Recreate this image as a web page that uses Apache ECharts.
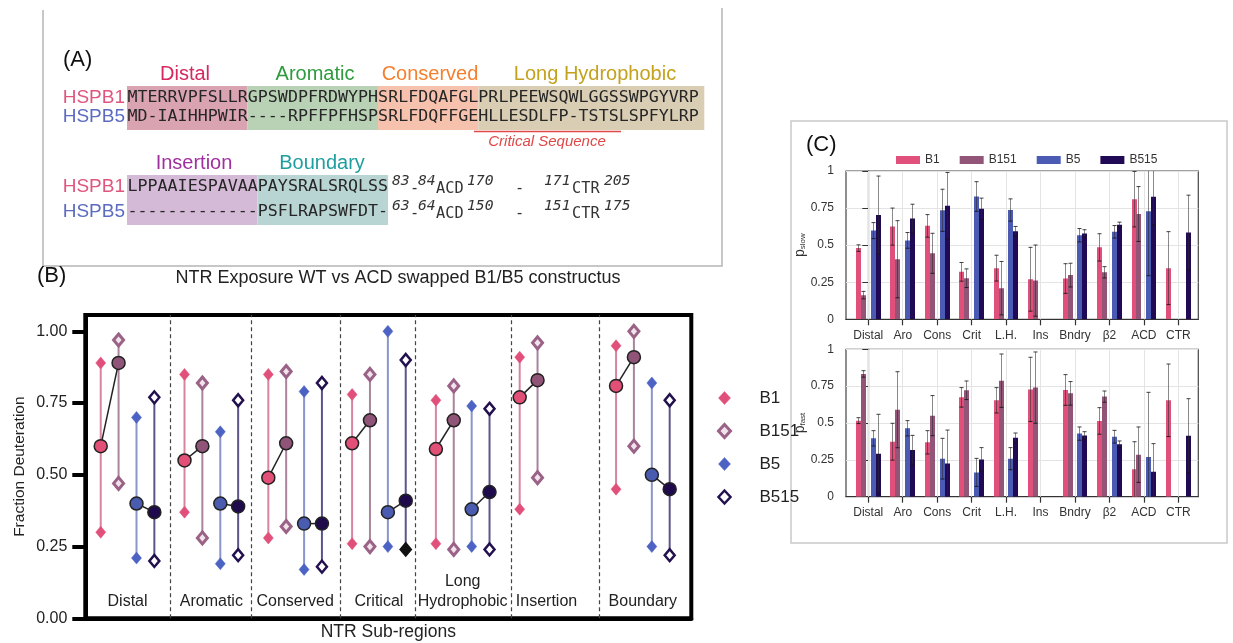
<!DOCTYPE html>
<html><head><meta charset="utf-8">
<script src="https://cdn.jsdelivr.net/npm/echarts@6/dist/echarts.min.js"></script>
<style>html,body{margin:0;padding:0;background:#fff;}#c{width:1233px;height:643px;}</style>
</head><body><div id="c"></div>
<script>
// ================= DATA =================
// Panel B: fraction deuteration [low, mean, high] per NTR sub-region
const regionsB = ['Distal', 'Aromatic', 'Conserved', 'Critical', 'Long\nHydrophobic', 'Insertion', 'Boundary'];
const regionPosB = [1, 2, 3, 4, 5, 6, 7.15];
const separatorPosB = [1.507, 2.482, 3.536, 4.431, 5.585, 6.63];
const yTicksB = [0, 0.25, 0.5, 0.75, 1];
const constructs = ['B1', 'B151', 'B5', 'B515'];
const deutB1   = [[0.30,0.60,0.89],[0.37,0.55,0.85],[0.28,0.49,0.85],[0.26,0.61,0.78],[0.26,0.59,0.76],[0.38,0.77,0.91],[0.45,0.81,0.95]];
const deutB151 = [[0.47,0.89,0.97],[0.28,0.60,0.82],[0.32,0.61,0.86],[0.25,0.69,0.85],[0.24,0.69,0.81],[0.49,0.83,0.96],[0.60,0.91,1.00]];
const deutB5   = [[0.21,0.40,0.70],[0.19,0.40,0.65],[0.17,0.33,0.79],[0.25,0.37,1.00],[0.25,0.38,0.74],null,[0.25,0.50,0.82]];
const deutB515 = [[0.20,0.37,0.77],[0.22,0.39,0.76],[0.18,0.33,0.82],[0.24,0.41,0.90],[0.24,0.44,0.73],null,[0.22,0.45,0.76]];

// Panel C: p_slow / p_fast bars with errors
const categoriesC = ['Distal', 'Aro', 'Cons', 'Crit', 'L.H.', 'Ins', 'Bndry', 'β2', 'ACD', 'CTR'];
const pSlowB1      = [0.48, 0.625, 0.63, 0.32, 0.345, 0.27, 0.275, 0.485, 0.81, 0.345];
const pSlowErrB1   = [0.022, 0.125, 0.076, 0.063, 0.087, 0.215, 0.10, 0.092, 0.187, 0.246];
const pSlowB151    = [0.163, 0.405, 0.445, 0.277, 0.21, 0.261, 0.298, 0.317, 0.71, null];
const pSlowErrB151 = [0.025, 0.26, 0.135, 0.063, 0.18, 0.24, 0.08, 0.038, 0.185, null];
const pSlowB5      = [0.598, 0.532, 0.735, 0.828, 0.737, null, 0.567, 0.59, 0.728, null];
const pSlowErrB5   = [0.054, 0.053, 0.142, 0.10, 0.075, null, 0.045, 0.042, 0.434, null];
const pSlowB515    = [0.703, 0.679, 0.766, 0.745, 0.594, null, 0.578, 0.638, 0.827, 0.585];
const pSlowErrB515 = [0.263, 0.097, 0.224, 0.072, 0.032, null, 0.026, 0.017, 0.19, 0.252];
const pFastB1      = [0.516, 0.373, 0.369, 0.674, 0.654, 0.728, 0.724, 0.514, 0.186, 0.654];
const pFastErrB1   = [0.02, 0.125, 0.079, 0.066, 0.086, 0.218, 0.104, 0.09, 0.187, 0.246];
const pFastB151    = [0.833, 0.59, 0.55, 0.722, 0.787, 0.74, 0.701, 0.679, 0.285, null];
const pFastErrB151 = [0.022, 0.258, 0.136, 0.063, 0.181, 0.242, 0.08, 0.038, 0.188, null];
const pFastB5      = [0.396, 0.464, 0.258, 0.165, 0.258, null, 0.428, 0.407, 0.269, null];
const pFastErrB5   = [0.052, 0.052, 0.138, 0.095, 0.075, null, 0.045, 0.043, 0.439, null];
const pFastB515    = [0.292, 0.317, 0.226, 0.253, 0.40, null, 0.416, 0.355, 0.17, 0.414];
const pFastErrB515 = [0.267, 0.099, 0.226, 0.08, 0.032, null, 0.025, 0.023, 0.19, 0.251];

// Panel A: sequences
const seqHSPB1a = 'MTERRVPFSLLRGPSWDPFRDWYPHSRLFDQAFGLPRLPEEWSQWLGGSSWPGYVRP';
const seqHSPB5a = 'MD-IAIHHPWIR----RPFFPFHSPSRLFDQFFGEHLLESDLFP-TSTSLSPFYLRP';
const seqHSPB1b = 'LPPAAIESPAVAAPAYSRALSRQLSS';
const seqHSPB5b = '-------------PSFLRAPSWFDT-';
const segNamesA = ['Distal', 'Aromatic', 'Conserved', 'Long Hydrophobic'];
const segLenA = [12, 13, 10, 22];
const segNamesB = ['Insertion', 'Boundary'];
const segLenB = [13, 13];
const rangesHSPB1 = ['83', '-', '84', 'ACD', '170', '-', '171', 'CTR', '205'];
const rangesHSPB5 = ['63', '-', '64', 'ACD', '150', '-', '151', 'CTR', '175'];

// ================= STYLE =================
const FONT = "'Liberation Sans', Arial, Helvetica, sans-serif";
const MONO = "'DejaVu Sans Mono', monospace";
const COL = { B1: '#E0507A', B151: '#935577', B5: '#4B5BB3', B515: '#200A55' };
const DOT = { B1: '#E24F77', B151: '#8F5477', B5: '#4A5CB0', B515: '#1F0B4C' };
const RANGE = { B1: '#D9849F', B151: '#A9849C', B5: '#8B95CB', B515: '#5D5488' };
const DIAMOND = {
  B1: { color: '#E0507A', borderColor: '#E0507A', borderWidth: 0.5, opacity: 1 },
  B151: { color: '#F1E3EB', borderColor: '#9A6286', borderWidth: 3, opacity: 1 },
  B5: { color: '#4C63C4', borderColor: '#4C63C4', borderWidth: 0.5, opacity: 1 },
  B515: { color: '#FFFFFF', borderColor: '#23104F', borderWidth: 2.5, opacity: 1 }
};
const OFF_B = [-0.32, -0.107, 0.107, 0.32];
const OFF_C = [-0.285, -0.142, 0.142, 0.285];
const BAR_W_C = 0.145;

// ================= PANEL B SERIES =================
const deutAll = { B1: deutB1, B151: deutB151, B5: deutB5, B515: deutB515 };
const seriesList = [];
constructs.forEach((name, k) => {
  const ranges = deutAll[name];
  const lineData = [], diaData = [], dotData = [];
  ranges.forEach((r, i) => {
    if (!r) return;
    const x = regionPosB[i] + OFF_B[k];
    lineData.push([x, r[0], r[2]]);
    const lowItem = { value: [x, r[0]] };
    if (name === 'B515' && regionsB[i] === 'Critical') lowItem.itemStyle = { color: '#111', borderColor: '#111' };
    diaData.push(lowItem);
    diaData.push({ value: [x, r[2]] });
    dotData.push([x, r[1]]);
  });
  seriesList.push({
    type: 'custom', name: name + ' range', xAxisIndex: 0, yAxisIndex: 0, z: 2, silent: true,
    encode: { x: 0, y: [1, 2] }, data: lineData,
    renderItem: (p, api) => {
      const a = api.coord([api.value(0), api.value(1)]);
      const b = api.coord([api.value(0), api.value(2)]);
      return { type: 'line', shape: { x1: a[0], y1: a[1], x2: b[0], y2: b[1] }, style: { stroke: RANGE[name], lineWidth: 2 } };
    }
  });
  seriesList.push({
    type: 'scatter', name: name, xAxisIndex: 0, yAxisIndex: 0, z: 4, silent: true,
    symbol: 'diamond', symbolSize: [10, 12], itemStyle: DIAMOND[name], data: diaData
  });
  seriesList.push({
    type: 'scatter', name: name + ' mean', xAxisIndex: 0, yAxisIndex: 0, z: 6, silent: true,
    symbol: 'circle', symbolSize: 13, itemStyle: { color: DOT[name], borderColor: '#222', borderWidth: 1.5, opacity: 1 },
    data: dotData
  });
});
// connectors between B1-B151 and B5-B515 means
const connData = [];
[[deutB1, deutB151, 0, 1], [deutB5, deutB515, 2, 3]].forEach(([a, b, ka, kb]) => {
  a.forEach((r, i) => {
    if (r && b[i]) connData.push([regionPosB[i] + OFF_B[ka], r[1], regionPosB[i] + OFF_B[kb], b[i][1]]);
  });
});
seriesList.push({
  type: 'custom', name: 'connectors', xAxisIndex: 0, yAxisIndex: 0, z: 5, silent: true,
  encode: { x: [0, 2], y: [1, 3] }, data: connData,
  renderItem: (p, api) => {
    const a = api.coord([api.value(0), api.value(1)]);
    const b = api.coord([api.value(2), api.value(3)]);
    return { type: 'line', shape: { x1: a[0], y1: a[1], x2: b[0], y2: b[1] }, style: { stroke: '#222', lineWidth: 1.5 } };
  },
  markLine: {
    silent: true, symbol: 'none', label: { show: false },
    lineStyle: { color: '#444', width: 1.2, type: [4, 3] },
    data: separatorPosB.map(v => ({ xAxis: v }))
  }
});

// ================= PANEL C SERIES =================
const slow = { B1: [pSlowB1, pSlowErrB1], B151: [pSlowB151, pSlowErrB151], B5: [pSlowB5, pSlowErrB5], B515: [pSlowB515, pSlowErrB515] };
const fast = { B1: [pFastB1, pFastErrB1], B151: [pFastB151, pFastErrB151], B5: [pFastB5, pFastErrB5], B515: [pFastB515, pFastErrB515] };
function barSeries(name, k, vals, errs, axisIdx, withGrid) {
  const data = [];
  vals.forEach((v, i) => { if (v != null) data.push([i + OFF_C[k], v, errs[i]]); });
  const s = {
    type: 'custom', name: name + (axisIdx === 1 ? ' slow' : ' fast'), xAxisIndex: axisIdx, yAxisIndex: axisIdx, clip: true, silent: true, z: 3,
    encode: { x: 0, y: 1 }, data: data,
    renderItem: (p, api) => {
      const x = api.value(0), v = api.value(1), e = api.value(2);
      const base = api.coord([x, 0]);
      const top = api.coord([x, v]);
      const w = Math.round(api.size([BAR_W_C, 0])[0]);
      const left = Math.round(top[0] - w / 2);
      const cx = left + w / 2;
      const children = [{ type: 'rect', shape: { x: left, y: top[1], width: w, height: base[1] - top[1] }, style: { fill: COL[name] } }];
      if (e != null && !isNaN(e)) {
        const hi = api.coord([x, v + e]);
        const loV = v - e;
        const lo = api.coord([x, Math.max(loV, 0)]);
        const st = { stroke: 'rgba(40,40,40,0.55)', lineWidth: 1 };
        children.push({ type: 'line', shape: { x1: cx, y1: hi[1], x2: cx, y2: lo[1] }, style: st });
        children.push({ type: 'line', shape: { x1: cx - 2, y1: hi[1], x2: cx + 2, y2: hi[1] }, style: { stroke: 'rgba(30,30,30,0.85)', lineWidth: 1 } });
        if (loV > 0) children.push({ type: 'line', shape: { x1: cx - 2, y1: lo[1], x2: cx + 2, y2: lo[1] }, style: { stroke: 'rgba(20,20,20,0.85)', lineWidth: 1 } });
      }
      return { type: 'group', children };
    }
  };
  if (withGrid) {
    s.markLine = {
      silent: true, symbol: 'none', label: { show: false }, z: 1,
      lineStyle: { color: '#e4e4e4', width: 1, type: 'solid' },
      data: categoriesC.map((c, i) => ({ xAxis: i }))
    };
  }
  return s;
}
constructs.forEach((name, k) => {
  seriesList.push(barSeries(name, k, slow[name][0], slow[name][1], 1, k === 0));
  seriesList.push(barSeries(name, k, fast[name][0], fast[name][1], 2, k === 0));
});

// ================= AXES =================
const catIdx = categoriesC.map((c, i) => i);
function cXAxis(gi) {
  return {
    gridIndex: gi, type: 'value', min: -0.647, max: 9.58,
    axisLine: { show: true, lineStyle: { color: '#333', width: 1.2 } },
    axisTick: { show: true, customValues: catIdx, length: 6, lineStyle: { color: '#333', width: 1.2 } },
    axisLabel: { customValues: catIdx, margin: 10, fontSize: 12, color: '#333', fontFamily: FONT,
      formatter: v => categoriesC[Math.round(v)] },
    splitLine: { show: false }
  };
}
function cYAxis(gi, sub) {
  return {
    gridIndex: gi, type: 'value', min: 0, max: 1, interval: 0.25,
    axisLine: { show: true, lineStyle: { color: '#333', width: 1.2 } },
    axisTick: { show: true, length: 6, lineStyle: { color: '#333' } },
    axisLabel: { margin: 12, fontSize: 12, color: '#333', fontFamily: FONT, formatter: v => String(v) },
    splitLine: { show: true, lineStyle: { color: '#e4e4e4' } },
    name: '{p|p}{s|' + sub + '}', nameLocation: 'middle', nameGap: 31,
    nameTextStyle: { fontSize: 12, color: '#333', fontFamily: FONT,
      rich: { p: { fontSize: 14, color: '#333', fontFamily: FONT }, s: { fontSize: 8, color: '#333', fontFamily: FONT, padding: [6, 0, 0, 0] } } }
  };
}

// ================= GRAPHICS (Panel A + frames) =================
const MONO_SIZE = 15, MONO_SCALE = 1.11;
const CW = 10.04;
const SEQ_X = 127.5;
const g = [];
function txt(t, x, y, opt) {
  opt = opt || {};
  const el = {
    type: 'text', x: x, y: y, silent: true,
    style: {
      text: t, font: opt.font || ('20px ' + FONT), fill: opt.fill || '#222',
      textAlign: opt.align || 'left', align: opt.align || 'left',
      textVerticalAlign: 'middle', verticalAlign: 'middle'
    }
  };
  if (opt.scaleX) el.scaleX = opt.scaleX;
  return el;
}
// frames
g.push({ type: 'polyline', silent: true, shape: { points: [[43, 10], [43, 266], [722, 266], [722, 8]] }, style: { stroke: '#b5b5b5', lineWidth: 1.5, fill: null } });
g.push({ type: 'rect', silent: true, shape: { x: 791, y: 121, width: 436, height: 422 }, style: { stroke: '#c9c9c9', lineWidth: 1.5, fill: null } });
// panel letters
g.push(txt('(A)', 63, 60, { font: '22px ' + FONT, fill: '#111' }));
g.push(txt('(B)', 37, 276, { font: '22px ' + FONT, fill: '#111' }));
g.push(txt('(C)', 806, 145, { font: '22px ' + FONT, fill: '#111' }));
g.push(txt('NTR Exposure WT vs ACD swapped B1/B5 constructus', 398, 278, { font: '18px ' + FONT, align: 'center', fill: '#222' }));
// block 1 boxes
const boxColA = ['#D9A3B2', '#B9D2B6', '#F6C2AE', '#D9CDB4'];
const labColA = ['#D6285F', '#2E9B3E', '#F4802F', '#C3A21E'];
const labXA = [185, 315, 430, 595];
let cum = 0;
segLenA.forEach((n, i) => {
  const x0 = 127 + cum * CW, x1 = 127 + (cum + n) * CW + (i === segLenA.length - 1 ? 5 : 0);
  g.push({ type: 'rect', silent: true, z: -1, shape: { x: x0, y: 86, width: x1 - x0, height: 44 }, style: { fill: boxColA[i] } });
  g.push(txt(segNamesA[i], labXA[i], 74, { font: '20px ' + FONT, fill: labColA[i], align: 'center' }));
  cum += n;
});
// block 2 boxes
const boxColB = ['#D4BAD6', '#B9D5D3'];
const labColB = ['#A0309F', '#1E9E9E'];
const labXB = [194, 322];
cum = 0;
segLenB.forEach((n, i) => {
  const x0 = 127 + cum * CW, x1 = 127 + (cum + n) * CW;
  g.push({ type: 'rect', silent: true, z: -1, shape: { x: x0, y: 175, width: x1 - x0, height: 50 }, style: { fill: boxColB[i] } });
  g.push(txt(segNamesB[i], labXB[i], 163, { font: '20px ' + FONT, fill: labColB[i], align: 'center' }));
  cum += n;
});
// row labels
[[98, 117], [187, 212]].forEach(([y1, y2]) => {
  g.push(txt('HSPB1', 125, y1, { font: '19px ' + FONT, fill: '#E0557E', align: 'right' }));
  g.push(txt('HSPB5', 125, y2, { font: '19px ' + FONT, fill: '#5B6BC0', align: 'right' }));
});
// sequences
const monoFont = MONO_SIZE + 'px ' + MONO;
g.push(txt(seqHSPB1a, SEQ_X, 98.5, { font: monoFont, scaleX: MONO_SCALE, fill: '#262626' }));
g.push(txt(seqHSPB5a, SEQ_X, 117.5, { font: monoFont, scaleX: MONO_SCALE, fill: '#262626' }));
g.push(txt(seqHSPB1b, SEQ_X, 187.5, { font: monoFont, scaleX: MONO_SCALE, fill: '#262626' }));
g.push(txt(seqHSPB5b, SEQ_X, 212.5, { font: monoFont, scaleX: MONO_SCALE, fill: '#262626' }));
// critical sequence
g.push({ type: 'line', silent: true, shape: { x1: 474, y1: 131.5, x2: 621, y2: 131.5 }, style: { stroke: '#E04848', lineWidth: 1.6 } });
g.push(txt('Critical Sequence', 547, 142, { font: 'italic 15px ' + FONT, fill: '#E04848', align: 'center' }));
// residue ranges (superscript numbers, domain names)
const supFont = 'italic 14px ' + MONO;
const annotX = [392, 410, 418, 436, 467, 515, 544, 572, 604];
const annotSup = [true, false, true, false, true, false, true, false, true];
[[rangesHSPB1, 187.5], [rangesHSPB5, 212.5]].forEach(([row, yc]) => {
  row.forEach((t, j) => {
    const sup = annotSup[j];
    g.push(txt(t, annotX[j], sup ? yc - 6 : yc + 1.5, { font: sup ? supFont : monoFont, fill: '#333', scaleX: sup ? 1.05 : 1.02 }));
  });
});

// ================= OPTION =================
const option = {
  animation: false,
  backgroundColor: '#ffffff',
  textStyle: { fontFamily: FONT },
  grid: [
    { left: 85.3, top: 315, width: 606, height: 303.3, show: true, borderColor: '#000', borderWidth: 4, backgroundColor: 'transparent' },
    { left: 846, top: 171, width: 352.3, height: 148.3, show: true, borderColor: '#444', borderWidth: 1.2 },
    { left: 846, top: 349.3, width: 352.3, height: 147.4, show: true, borderColor: '#444', borderWidth: 1.2 }
  ],
  xAxis: [
    {
      gridIndex: 0, type: 'value', min: 0.496, max: 7.728,
      axisLine: { show: true, lineStyle: { color: '#000', width: 4 } },
      axisTick: { show: false },
      splitLine: { show: false },
      axisLabel: {
        customValues: regionPosB, inside: true, margin: 7, fontSize: 16, lineHeight: 20, color: '#222', fontFamily: FONT,
        formatter: v => { const i = regionPosB.findIndex(p => Math.abs(p - v) < 1e-6); return i >= 0 ? regionsB[i] : ''; }
      },
      name: 'NTR Sub-regions', nameLocation: 'middle', nameGap: 5,
      nameTextStyle: { fontSize: 17.5, color: '#222', fontFamily: FONT }
    },
    cXAxis(1), cXAxis(2)
  ],
  yAxis: [
    {
      gridIndex: 0, type: 'value', min: 0, max: 1.057,
      axisLine: { show: true, lineStyle: { color: '#000', width: 4 } },
      axisTick: { show: true, customValues: yTicksB, length: 13, lineStyle: { color: '#000', width: 4 } },
      axisLabel: { customValues: yTicksB, margin: 18, fontSize: 16, color: '#222', fontFamily: FONT, formatter: v => v.toFixed(2) },
      splitLine: { show: false },
      name: 'Fraction Deuteration', nameLocation: 'middle', nameGap: 58,
      nameTextStyle: { fontSize: 15.5, color: '#222', fontFamily: FONT }
    },
    cYAxis(1, 'slow'), cYAxis(2, 'fast')
  ],
  legend: [
    {
      orient: 'vertical', left: 712, top: 384.5, itemWidth: 12, itemHeight: 13, itemGap: 16,
      selectedMode: false,
      textStyle: { fontSize: 17, color: '#222', fontFamily: FONT, padding: [0, 0, 0, 24] },
      data: constructs.map(n => ({ name: n, icon: 'diamond', itemStyle: DIAMOND[n] }))
    },
    {
      orient: 'horizontal', left: 891, top: 149, itemWidth: 24, itemHeight: 8, itemGap: 20,
      selectedMode: false,
      textStyle: { fontSize: 12, color: '#333', fontFamily: FONT },
      data: constructs.map(n => ({ name: n, icon: 'rect', itemStyle: { color: COL[n], borderWidth: 0, opacity: 1 } }))
    }
  ],
  graphic: g,
  series: seriesList
};

const chart = echarts.init(document.getElementById('c'), null, { renderer: 'canvas', width: 1233, height: 643 });
chart.setOption(option);
</script>
</body></html>
